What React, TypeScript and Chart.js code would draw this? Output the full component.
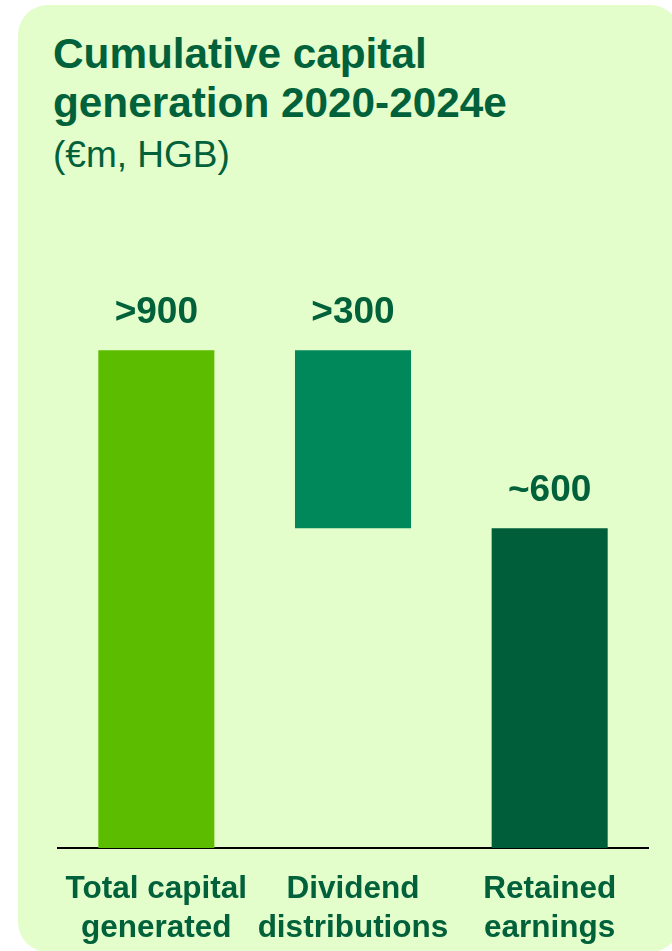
import React, { useEffect, useRef } from "react";
import { Chart, registerables } from "chart.js";

Chart.register(...registerables);

const categories: string[][] = [
  ["Total capital", "generated"],
  ["Dividend", "distributions"],
  ["Retained", "earnings"],
];
const barStart: number[] = [0, 578, 0];
const barEnd: number[] = [900, 900, 578];
const valueLabels: string[] = [">900", ">300", "~600"];
const barColors: string[] = ["#5CBD00", "#00875A", "#005F3A"];

const TEXT = "#00613A";
const FONT = "'Liberation Sans', Arial, Helvetica, sans-serif";

const valueLabelPlugin = {
  id: "valueLabels",
  afterDatasetsDraw(chart: any) {
    const ctx = chart.ctx;
    const meta = chart.getDatasetMeta(0);
    ctx.save();
    ctx.fillStyle = TEXT;
    ctx.font = `bold 37px ${FONT}`;
    ctx.textAlign = "center";
    ctx.textBaseline = "alphabetic";
    meta.data.forEach((bar: any, i: number) => {
      const a = chart.scales.y.getPixelForValue(barEnd[i]);
      const b = chart.scales.y.getPixelForValue(barStart[i]);
      ctx.fillText(valueLabels[i], bar.x, Math.min(a, b) - 27);
    });
    ctx.restore();
  },
};

export default function App() {
  const canvasRef = useRef<HTMLCanvasElement | null>(null);

  useEffect(() => {
    if (!canvasRef.current) return;
    const chart = new Chart(canvasRef.current, {
      type: "bar",
      data: {
        labels: categories as any,
        datasets: [
          {
            data: barStart.map((s, i) => [s, barEnd[i]]) as any,
            backgroundColor: barColors,
            borderWidth: 0,
            categoryPercentage: 1,
            barPercentage: 0.59,
          },
        ],
      },
      options: {
        animation: false,
        responsive: false,
        maintainAspectRatio: false,
        layout: { padding: { left: 58, right: 24, top: 295, bottom: 0 } },
        plugins: {
          legend: { display: false },
          tooltip: { enabled: false },
          title: { display: false },
        },
        scales: {
          x: {
            grid: { display: false, drawTicks: false },
            border: { display: true, color: "#000000", width: 2 },
            ticks: {
              color: TEXT,
              padding: 22,
              maxRotation: 0,
              autoSkip: false,
              font: { family: FONT, size: 31.5, weight: "bold", lineHeight: 1.24 },
            },
            afterFit: (scale: any) => {
              scale.height = 103;
            },
          },
          y: {
            display: false,
            min: 0,
            max: 1000,
          },
        },
      },
      plugins: [valueLabelPlugin],
    });
    return () => chart.destroy();
  }, []);

  return (
    <div
      style={{
        position: "fixed",
        left: 0,
        top: 0,
        width: 672,
        height: 951,
        overflow: "hidden",
        background: "#FFFFFF",
      }}
    >
      <div
        style={{
          position: "absolute",
          left: 18,
          top: 5,
          width: 662,
          height: 947,
          borderRadius: 30,
          background: "#E3FDCB",
        }}
      />
      <div
        style={{
          position: "absolute",
          left: 53,
          top: 29,
          fontFamily: FONT,
          fontWeight: "bold",
          fontSize: 42.3,
          lineHeight: "49px",
          color: TEXT,
          whiteSpace: "nowrap",
        }}
      >
        Cumulative capital
        <br />
        generation 2020-2024e
      </div>
      <div
        style={{
          position: "absolute",
          left: 53,
          top: 135,
          fontFamily: FONT,
          fontSize: 37,
          lineHeight: "40px",
          color: TEXT,
          whiteSpace: "nowrap",
        }}
      >
        (€m, HGB)
      </div>
      <canvas
        ref={canvasRef}
        width={672}
        height={951}
        style={{ position: "absolute", left: 0, top: 0, width: 672, height: 951 }}
      />
    </div>
  );
}
